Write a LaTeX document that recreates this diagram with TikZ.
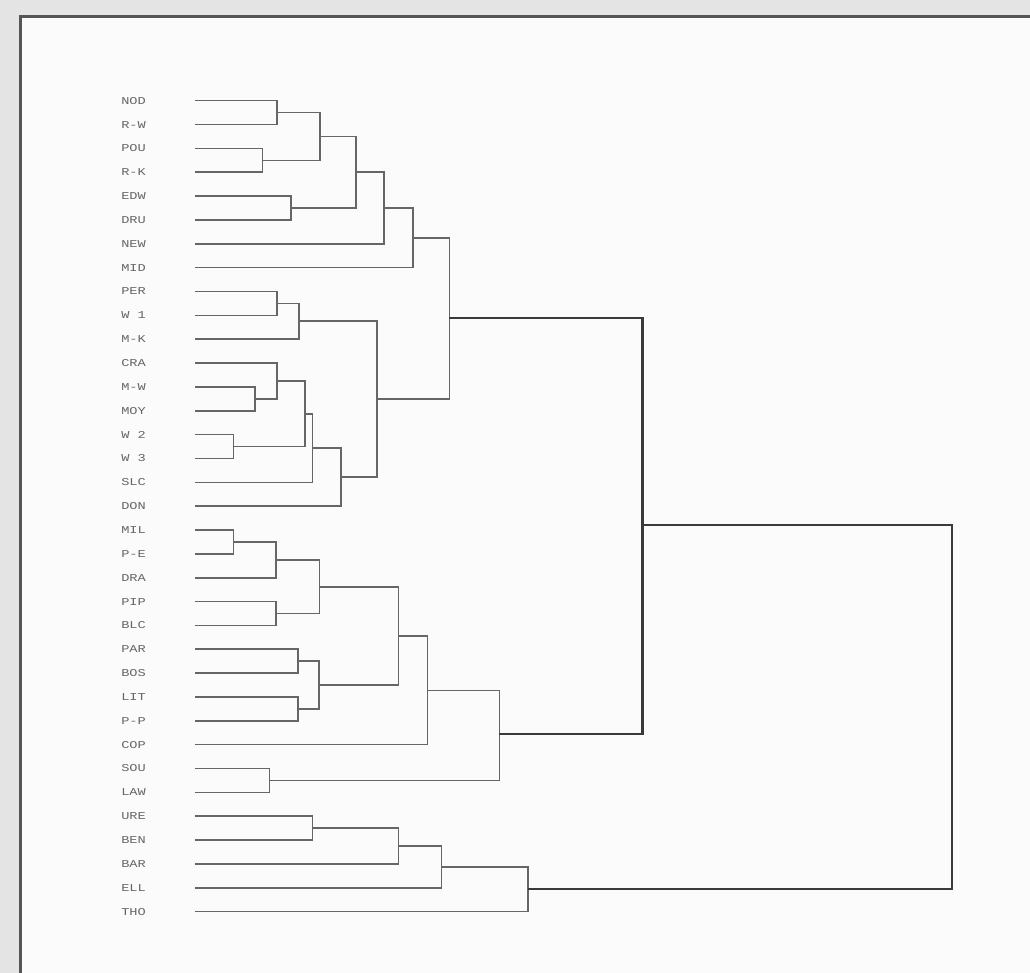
\documentclass[tikz,border=0pt]{standalone}
\usepackage{fontspec}
\newfontfamily\plotfont{Liberation Mono}
\definecolor{outside}{HTML}{E4E4E4}
\definecolor{paper}{HTML}{FBFBFB}
\definecolor{framecol}{HTML}{555555}
\definecolor{linkcol}{HTML}{666666}
\definecolor{rootcol}{HTML}{3A3A3A}
\definecolor{labcol}{HTML}{666666}
\begin{document}
\begin{tikzpicture}[x=1pt,y=-1pt,
  lab/.style={anchor=west,inner sep=0pt,text=labcol,font=\plotfont\fontsize{10.5}{10.5}\selectfont,xscale=1.3},
  link/.style={draw=linkcol,line width=1.6pt},
  toplink/.style={draw=rootcol,line width=2.1pt},
  framebox/.style={draw=framecol,line width=3pt}]
\useasboundingbox (0,0) rectangle (1030,973);
\fill[outside] (0,0) rectangle (1030,973);
\fill[paper] (20,17) rectangle (1030,973);
\draw[framebox] (20,973) -- (20,17) -- (1030,17);

% leaves
\foreach \t [count=\i from 0] in {NOD,R-W,POU,R-K,EDW,DRU,NEW,MID,PER,W 1,M-K,CRA,M-W,MOY,W 2,W 3,SLC,DON,MIL,P-E,DRA,PIP,BLC,PAR,BOS,LIT,P-P,COP,SOU,LAW,URE,BEN,BAR,ELL,THO}{
  \pgfmathsetmacro\yy{100.7+23.85*\i}
  \node[lab] (t\i) at (121,\yy) {\t};
  \coordinate (l\i) at (195,\yy);
}

% internal merge points
\coordinate (a1) at (276.7,112.6);
\coordinate (a2) at (262.3,160.4);
\coordinate (a3) at (320.0,136.5);
\coordinate (a4) at (291.0,208.1);
\coordinate (a5) at (356.0,172.3);
\coordinate (a6) at (384.0,208.0);
\coordinate (a7) at (412.7,237.9);
\coordinate (b1) at (276.7,303.5);
\coordinate (b2) at (298.7,321.3);
\coordinate (b3) at (254.7,398.9);
\coordinate (b4) at (276.7,381.0);
\coordinate (b5) at (233.3,446.6);
\coordinate (b6) at (304.7,413.8);
\coordinate (b7) at (312.3,448.0);
\coordinate (b8) at (340.7,477.1);
\coordinate (b9) at (376.7,399.2);
\coordinate (c1) at (449.3,318.0);
\coordinate (d1) at (233.3,542.0);
\coordinate (d2) at (276.0,559.8);
\coordinate (d3) at (276.0,613.5);
\coordinate (d4) at (319.3,586.7);
\coordinate (d5) at (298.0,661.2);
\coordinate (d6) at (298.0,708.9);
\coordinate (d7) at (319.0,685.0);
\coordinate (d8) at (398.3,635.9);
\coordinate (d9) at (427.3,690.3);
\coordinate (d10) at (269.3,780.5);
\coordinate (d11) at (499.3,734.0);
\coordinate (e1) at (642.5,525.0);
\coordinate (f1) at (312.3,828.2);
\coordinate (f2) at (398.3,846.0);
\coordinate (f3) at (441.3,866.9);
\coordinate (f4) at (527.7,889.3);
\coordinate (g) at (951.7,707.0);

% links
\draw[link] (l0) -| (a1) (l1) -| (a1);
\draw[link] (l2) -| (a2) (l3) -| (a2);
\draw[link] (a1) -| (a3) (a2) -| (a3);
\draw[link] (l4) -| (a4) (l5) -| (a4);
\draw[link] (a3) -| (a5) (a4) -| (a5);
\draw[link] (a5) -| (a6) (l6) -| (a6);
\draw[link] (a6) -| (a7) (l7) -| (a7);
\draw[link] (l8) -| (b1) (l9) -| (b1);
\draw[link] (b1) -| (b2) (l10) -| (b2);
\draw[link] (l12) -| (b3) (l13) -| (b3);
\draw[link] (l11) -| (b4) (b3) -| (b4);
\draw[link] (l14) -| (b5) (l15) -| (b5);
\draw[link] (b4) -| (b6) (b5) -| (b6);
\draw[link] (b6) -| (b7) (l16) -| (b7);
\draw[link] (b7) -| (b8) (l17) -| (b8);
\draw[link] (b2) -| (b9) (b8) -| (b9);
\draw[link] (a7) -| (c1) (b9) -| (c1);
\draw[link] (l18) -| (d1) (l19) -| (d1);
\draw[link] (d1) -| (d2) (l20) -| (d2);
\draw[link] (l21) -| (d3) (l22) -| (d3);
\draw[link] (d2) -| (d4) (d3) -| (d4);
\draw[link] (l23) -| (d5) (l24) -| (d5);
\draw[link] (l25) -| (d6) (l26) -| (d6);
\draw[link] (d5) -| (d7) (d6) -| (d7);
\draw[link] (d4) -| (d8) (d7) -| (d8);
\draw[link] (d8) -| (d9) (l27) -| (d9);
\draw[link] (l28) -| (d10) (l29) -| (d10);
\draw[link] (d9) -| (d11) (d10) -| (d11);
\draw[link] (l30) -| (f1) (l31) -| (f1);
\draw[link] (f1) -| (f2) (l32) -| (f2);
\draw[link] (f2) -| (f3) (l33) -| (f3);
\draw[link] (f3) -| (f4) (l34) -| (f4);
\draw[toplink] (c1) -| (e1) (d11) -| (e1);
\draw[toplink] (e1) -| (g) (f4) -| (g);
\end{tikzpicture}
\end{document}
